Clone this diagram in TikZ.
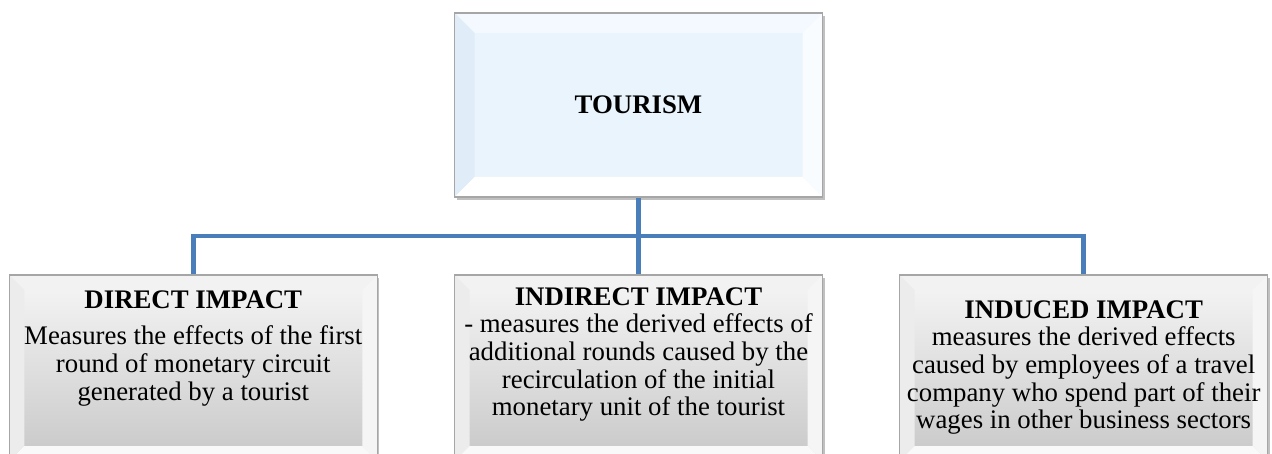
\documentclass[tikz,border=0pt]{standalone}
\usepackage{fontspec}
\setmainfont{Liberation Serif}
\usetikzlibrary{positioning,calc,shadows}

\definecolor{linkblue}{HTML}{4A7EBB}
\definecolor{tourin}{HTML}{EAF4FC}
\definecolor{tourtop}{HTML}{F3F9FE}
\definecolor{tourleft}{HTML}{E0ECF7}
\definecolor{impin}{HTML}{F6F6F6}
\definecolor{impout}{HTML}{C8C8C8}

% bevelled frame: width, top, left, right, bottom colours
\tikzset{
  bevel/.style n args={5}{path picture={
    \fill[#2] (path picture bounding box.north west) -- (path picture bounding box.north east)
      -- ([xshift=-#1,yshift=-#1]path picture bounding box.north east)
      -- ([xshift=#1,yshift=-#1]path picture bounding box.north west) -- cycle;
    \fill[#3] (path picture bounding box.north west) -- (path picture bounding box.south west)
      -- ([xshift=#1,yshift=#1]path picture bounding box.south west)
      -- ([xshift=#1,yshift=-#1]path picture bounding box.north west) -- cycle;
    \fill[#4] (path picture bounding box.north east) -- (path picture bounding box.south east)
      -- ([xshift=-#1,yshift=#1]path picture bounding box.south east)
      -- ([xshift=-#1,yshift=-#1]path picture bounding box.north east) -- cycle;
    \fill[#5] (path picture bounding box.south west) -- (path picture bounding box.south east)
      -- ([xshift=-#1,yshift=#1]path picture bounding box.south east)
      -- ([xshift=#1,yshift=#1]path picture bounding box.south west) -- cycle;
  }},
}

\begin{document}
\begin{tikzpicture}[x=1pt,y=-1pt,
  box/.style={rectangle,draw=gray!70,line width=1.2pt,minimum width=368pt,minimum height=184pt,
    inner sep=0pt,font=\fontsize{26.8}{27.7}\selectfont,
    drop shadow={shadow xshift=2pt,shadow yshift=-3pt,opacity=.45,fill=black!55}},
  topbox/.style={box,fill=tourin,bevel={20pt}{tourtop}{tourleft}{white!70!tourin}{white}},
  impbox/.style={box,minimum height=186pt,top color=impin,bottom color=impout,
    bevel={15pt}{gray!10}{gray!15}{white!92!gray}{white!95!gray}},
  link/.style={draw=linkblue,line width=4.5pt}]

  \useasboundingbox (0,0) rectangle (1272,454);
  \clip (0,0) rectangle (1272,454);

  \node[topbox] (tour) at (638.5,105) {\textbf{TOURISM}};

  \node[impbox] (indirect) at (638.5,368) {\parbox[c][186pt][t]{366pt}{\centering
    \rule{0pt}{30pt}\textbf{INDIRECT IMPACT}\\
    - measures the derived effects of\\
    additional rounds caused by the\\
    recirculation of the initial\\
    monetary unit of the tourist}};
  \node[impbox,left=76pt of indirect] (direct) {\parbox[c][186pt][t]{366pt}{\centering
    \rule{0pt}{33pt}\textbf{DIRECT IMPACT}\\[9pt]
    Measures the effects of the first\\
    round of monetary circuit\\
    generated by a tourist}};
  \node[impbox,right=76pt of indirect] (induced) {\parbox[c][186pt][t]{366pt}{\centering
    \rule{0pt}{43pt}\textbf{INDUCED IMPACT}\\
    measures the derived effects\\
    caused by employees of a travel\\
    company who spend part of their\\
    wages in other business sectors}};

  % tree connectors
  \coordinate (bus) at ($(tour.south)!.5!(indirect.north)$);
  \draw[link] (tour) -- (indirect);
  \draw[link] (direct) |- (bus) -| (induced);
\end{tikzpicture}
\end{document}
